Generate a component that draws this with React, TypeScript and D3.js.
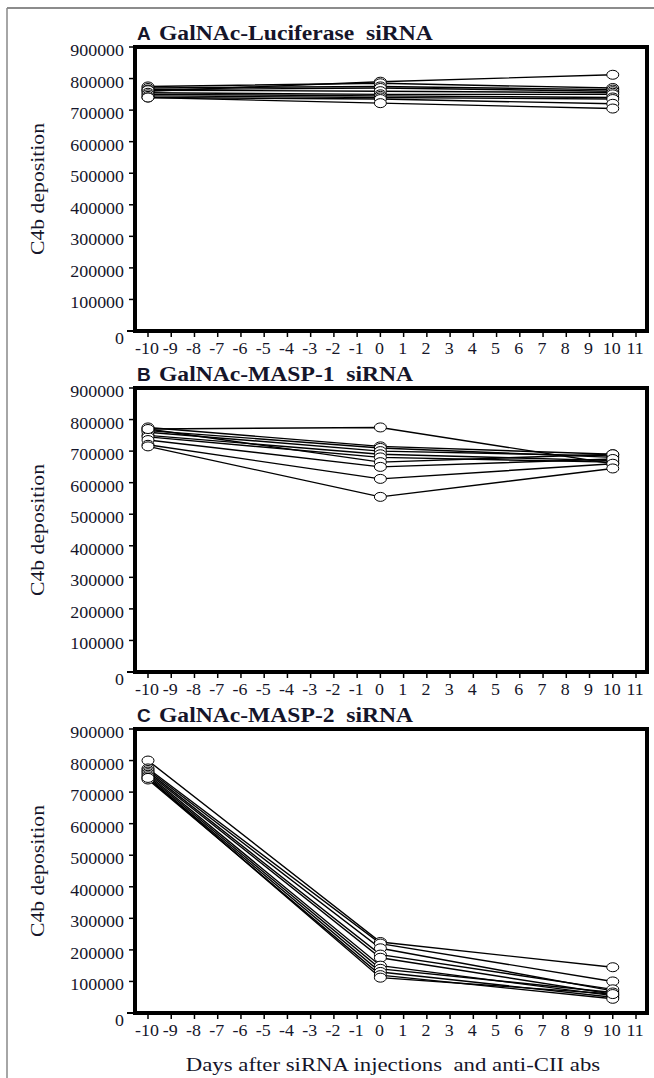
import React from "react";
import * as d3 from "d3";

const days = [-10, 0, 10];
const xTicks = d3.range(-10, 12);
const yTicks = d3.range(0, 1000000, 100000);

const titlesLetter = ["A", "B", "C"];
const titlesText = ["GalNAc-Luciferase  siRNA", "GalNAc-MASP-1  siRNA", "GalNAc-MASP-2  siRNA"];
const yTitle = "C4b deposition";
const xTitle = "Days after siRNA injections  and anti-CII abs";

// values per mouse: [day -10, day 0, day 10]
const panelA = [
  [760000, 790000, 812000],
  [775000, 785000, 770000],
  [770000, 775000, 765000],
  [765000, 770000, 760000],
  [763000, 760000, 755000],
  [755000, 750000, 750000],
  [750000, 745000, 740000],
  [745000, 740000, 735000],
  [740000, 735000, 720000],
  [740000, 722000, 705000],
];
const panelB = [
  [770000, 775000, 660000],
  [775000, 715000, 690000],
  [765000, 710000, 680000],
  [760000, 700000, 685000],
  [750000, 690000, 670000],
  [745000, 680000, 665000],
  [770000, 665000, 690000],
  [735000, 650000, 675000],
  [720000, 612000, 660000],
  [715000, 555000, 645000],
];
const panelC = [
  [800000, 225000, 145000],
  [775000, 220000, 100000],
  [770000, 205000, 70000],
  [765000, 185000, 75000],
  [760000, 175000, 60000],
  [755000, 150000, 55000],
  [750000, 140000, 65000],
  [745000, 130000, 50000],
  [740000, 120000, 45000],
  [745000, 112000, 60000],
];
const panels = [panelA, panelB, panelC];

const W = 654;
const H = 1078;
const frameLeft = 135;
const frameRight = 647;
const period = 341;
const frameBottom0 = 331;
const frameH = 284;
const serif = "'Liberation Serif', 'Times New Roman', serif";
const sans = "'Liberation Sans', Arial, sans-serif";
const ink = "#15152a";
const SX = 1.12;

const x = d3.scaleLinear().domain([-10, 11]).range([148, 636]);

function SText(props: {
  x: number;
  y: number;
  sx?: number;
  anchor?: string;
  size: number;
  family?: string;
  weight?: string;
  children: React.ReactNode;
}) {
  const sx = props.sx ?? SX;
  return (
    <g transform={`translate(${props.x},${props.y}) scale(${sx},1)`}>
      <text
        x={0}
        y={0}
        textAnchor={props.anchor || "start"}
        fontFamily={props.family || serif}
        fontWeight={props.weight || "normal"}
        fontSize={props.size}
        fill={ink}
        style={{ whiteSpace: "pre" }}
      >
        {props.children}
      </text>
    </g>
  );
}

function Panel({ idx }: { idx: number }) {
  const bottom = frameBottom0 + period * idx;
  const top = bottom - frameH;
  const y = d3.scaleLinear().domain([0, 900000]).range([bottom, top]);
  const line = d3
    .line<number>()
    .x((_, i) => x(days[i]))
    .y((v) => y(v));
  const data = panels[idx];
  return (
    <g>
      <SText x={frameLeft + 2} y={top - 7} size={19} family={sans} weight="bold" sx={1.0}>
        {titlesLetter[idx]}
      </SText>
      <SText x={frameLeft + 24} y={top - 7} size={20} weight="bold" sx={1.18}>
        {titlesText[idx]}
      </SText>
      <text
        transform={`translate(44,${(top + bottom) / 2}) rotate(-90)`}
        textAnchor="middle"
        fontFamily={serif}
        fontSize={18}
        textLength={132}
        lengthAdjust="spacingAndGlyphs"
        fill={ink}
      >
        {yTitle}
      </text>
      {yTicks.map((t) => (
        <g key={t}>
          <line x1={frameLeft - 6} x2={frameLeft} y1={y(t)} y2={y(t)} stroke="#000" strokeWidth={1.5} />
          <SText x={frameLeft - 11} y={y(t) + (t === 0 ? 13 : 9)} anchor="end" size={16}>
            {t}
          </SText>
        </g>
      ))}
      {xTicks.map((t) => (
        <g key={t}>
          <line x1={x(t)} x2={x(t)} y1={bottom} y2={bottom + 6} stroke="#000" strokeWidth={1.5} />
          <SText x={x(t) - 1} y={bottom + 23} anchor="middle" size={16}>
            {t}
          </SText>
        </g>
      ))}
      <line x1={frameLeft - 8} x2={frameRight} y1={bottom} y2={bottom} stroke="#000" strokeWidth={2} />
      <rect
        x={frameLeft}
        y={top}
        width={frameRight - frameLeft}
        height={frameH}
        fill="none"
        stroke="#000"
        strokeWidth={4}
      />
      {data.map((s, i) => (
        <path key={"l" + i} d={line(s) || ""} fill="none" stroke="#000" strokeWidth={1.4} />
      ))}
      {data.map((s, i) =>
        s.map((v, j) => (
          <ellipse
            key={"m" + i + "-" + j}
            cx={x(days[j])}
            cy={y(v)}
            rx={6}
            ry={4.5}
            fill="#fff"
            stroke="#000"
            strokeWidth={1}
          />
        ))
      )}
    </g>
  );
}

export default function App() {
  return (
    <svg
      width={W}
      height={H}
      viewBox={`0 0 ${W} ${H}`}
      style={{ position: "absolute", left: 0, top: 0, background: "#fff" }}
    >
      <rect x={0} y={0} width={W} height={H} fill="#fff" />
      <line x1={7} x2={W} y1={8} y2={8} stroke="#666" strokeWidth={1.5} />
      <line x1={7} x2={7} y1={8} y2={H} stroke="#888" strokeWidth={1.5} />
      {[0, 1, 2].map((i) => (
        <Panel key={i} idx={i} />
      ))}
      <SText x={393} y={1071} anchor="middle" size={19} sx={1.2}>
        {xTitle}
      </SText>
    </svg>
  );
}
